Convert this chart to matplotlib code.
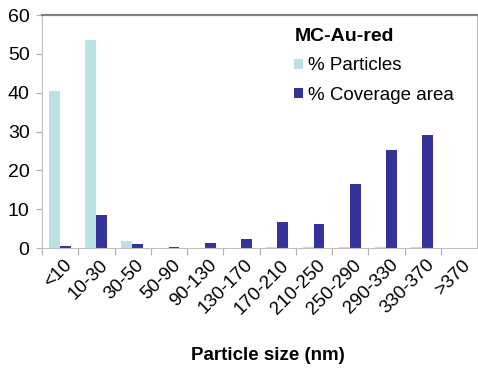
import numpy as np
from matplotlib import pyplot as plt

plt.rcParams['font.family'] = ['Liberation Sans', 'DejaVu Sans']

categories = ['<10', '10-30', '30-50', '50-90', '90-130', '130-170', '170-210',
              '210-250', '250-290', '290-330', '330-370', '>370']
particles = [40.5, 53.6, 1.9, 0.0, 0.0, 0.0, 0.2, 0.2, 0.3, 0.3, 0.3, 0.0]
coverage = [0.5, 8.6, 1.1, 0.4, 1.2, 2.3, 6.7, 6.1, 16.6, 25.2, 29.2, 0.0]


def main():
    fig = plt.figure(figsize=(4.78, 3.76), dpi=100)
    ax = fig.add_axes([0.088, 0.34, 0.91, 0.62])

    x = np.arange(len(categories))
    w = 0.3
    ax.bar(x - 0.16, particles, w, color='#b9e2e5', label='% Particles')
    ax.bar(x + 0.14, coverage, w, color='#333399', label='% Coverage area')

    ax.set_xlim(-0.5, len(categories) - 0.5)
    ax.set_ylim(0, 60)
    ax.set_yticks(range(0, 61, 10))
    ax.tick_params(axis='y', labelsize=14, length=4, color='#b0b0b0', pad=5)

    ax.set_xticks(x - 0.5, minor=False)
    ax.set_xticklabels([])
    ax.tick_params(axis='x', length=5, color='#b0b0b0')
    for xi, lab in zip(x, categories):
        ax.annotate(lab, (xi, 0), xytext=(2, -6), textcoords='offset points',
                    xycoords='data', rotation=45, ha='right', va='top',
                    rotation_mode='anchor', fontsize=13.5)

    for s in ['left', 'bottom', 'right']:
        ax.spines[s].set_color('#c0c0c0')
    ax.spines['top'].set_color('#808080')
    ax.spines['top'].set_linewidth(1.6)

    ax.legend(loc='upper left', bbox_to_anchor=(0.55, 1.0), frameon=False,
              title='MC-Au-red', title_fontproperties={'weight': 'bold', 'size': 14},
              fontsize=13.5, handlelength=0.45, handleheight=0.45,
              handletextpad=0.3, labelspacing=0.65, alignment='left',
              borderpad=0.2)

    fig.text(268 / 478, 1 - 355 / 376, 'Particle size (nm)', ha='center', va='center',
             fontsize=13.5, fontweight='bold')

    fig.savefig('out.png', dpi=100)


if __name__ == '__main__':
    main()
